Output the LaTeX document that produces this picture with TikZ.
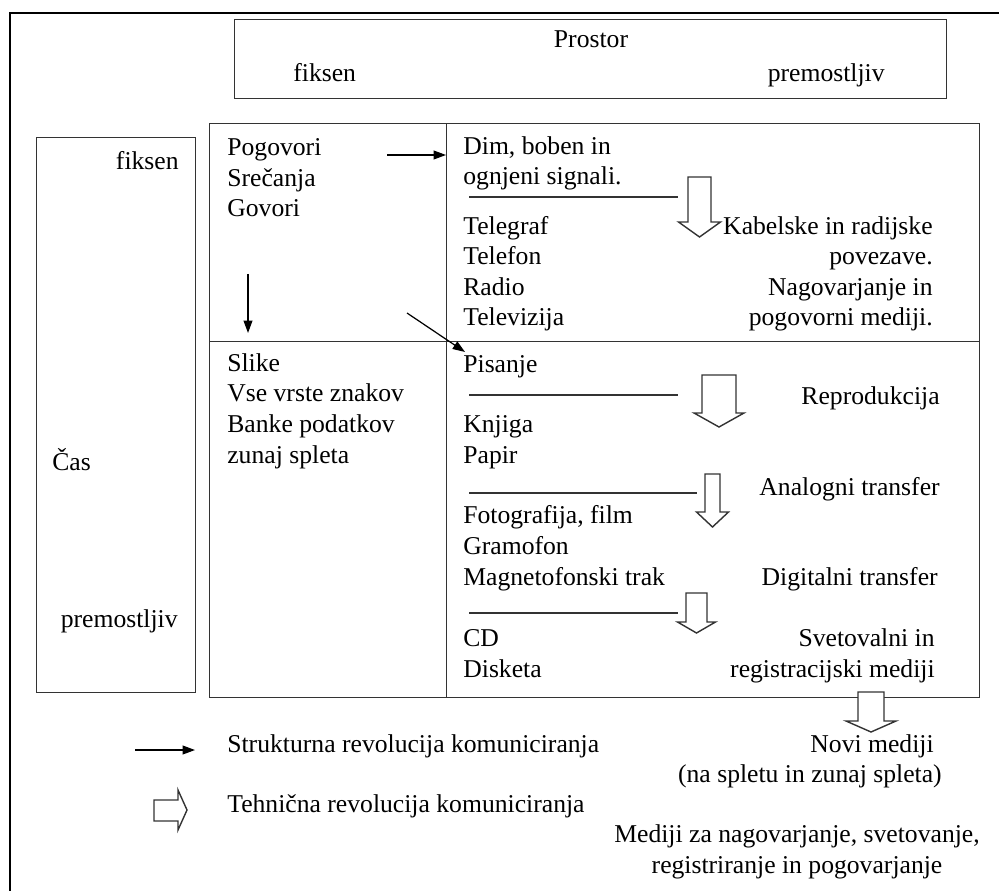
\documentclass[tikz,border=0pt]{standalone}
\usepackage{fontspec}
\setmainfont{Liberation Serif}
\usetikzlibrary{arrows.meta}

\begin{document}
\begin{tikzpicture}[
		x=0.02cm, y=-0.02cm,
		frame/.style={draw=black!80, line width=0.8pt},
		cell/.style={frame, rectangle, inner sep=0pt, anchor=north west},
		txt/.style={inner sep=0pt, font=\fontsize{14.6}{17.4}\selectfont},
		lst/.style={txt, align=left, anchor=base west},
		rlst/.style={txt, align=right, anchor=base east},
		arr/.style={-{Triangle[length=7pt, width=5pt]}, line width=0.7pt},
		techarr/.style={draw=black!80, line width=0.8pt, fill=white, line join=miter},
	]
	\useasboundingbox (0,0) rectangle (999,891);
	\draw[line width=1.5pt] (10,891) -- (10,13) -- (999,13);

	% Prostor
	\node[cell, minimum width=14.24cm, minimum height=1.58cm] (prostor) at (234,19) {};
	\node[txt, anchor=base] (plbl) at (591,48) {Prostor};
	\node[txt, anchor=base west] (pfix) at (293,82) {fiksen};
	\node[txt, anchor=base east] (pprem) at (885,82) {premostljiv};

	% Cas
	\node[cell, minimum width=3.18cm, minimum height=11.1cm] (cas) at (36,137) {};
	\node[txt, anchor=base east] (cfix) at (179,170) {fiksen};
	\node[txt, anchor=base west] (clbl) at (52,470) {Čas};
	\node[txt, anchor=base east] (cprem) at (178,627) {premostljiv};

	% Cells
	\node[cell, minimum width=4.74cm, minimum height=4.36cm] (tl) at (209,123) {};
	\node[cell, minimum width=10.66cm, minimum height=4.36cm] (tr) at (446,123) {};
	\node[cell, minimum width=4.74cm, minimum height=7.12cm] (bl) at (209,341) {};
	\node[cell, minimum width=10.66cm, minimum height=7.12cm] (br) at (446,341) {};

	% Left column (base = last line)
	\node[lst] (govor) at (227,217) {Pogovori\\Srečanja\\Govori};
	\node[lst] (slike) at (227,463) {Slike\\Vse vrste znakov\\Banke podatkov\\zunaj spleta};

	% Right column
	\node[lst] (dim) at (463,185) {Dim, boben in\\ognjeni signali.};
	\node[lst] (tele) at (463,326) {Telegraf\\Telefon\\Radio\\Televizija};
	\node[rlst] (kabel) at (933,326) {Kabelske in radijske\\povezave.\\Nagovarjanje in\\pogovorni mediji.};
	\node[lst] (pis) at (463,372) {Pisanje};
	\node[rlst] (repro) at (940,404) {Reprodukcija};
	\node[lst] (knj) at (463,463) {Knjiga\\Papir};
	\node[rlst] (analog) at (940,495) {Analogni transfer};
	\node[lst] (foto) at (463,585) {Fotografija, film\\Gramofon\\Magnetofonski trak};
	\node[rlst] (digit) at (938,585) {Digitalni transfer};
	\node[lst] (cd) at (463,677) {CD\\Disketa};
	\node[rlst] (svet) at (935,677) {Svetovalni in\\registracijski mediji};

	% Below
	\node[txt, anchor=base east] (novi) at (934,752) {Novi mediji};
	\node[txt, anchor=base east] (splet) at (942,782) {(na spletu in zunaj spleta)};
	\node[txt, anchor=base, align=center] (medij) at (797,873) {Mediji za nagovarjanje, svetovanje,\\registriranje in pogovarjanje};

	% Legend
	\node[lst] (lstr) at (227,752) {Strukturna revolucija komuniciranja};
	\node[lst] (ltech) at (227,812) {Tehnična revolucija komuniciranja};

	% Separators
	\draw[frame] (469,197) -- (678,197);
	\draw[frame] (469,395) -- (678,395);
	\draw[frame] (469,493) -- (697,493);
	\draw[frame] (469,613) -- (678,613);

	% Structural arrows
	\coordinate (h1) at (387,155);
	\coordinate (h2) at (446,155);
	\coordinate (v1) at (248,274);
	\coordinate (v2) at (248,333);
	\coordinate (d1) at (407,313);
	\coordinate (d2) at (465,352);
	\coordinate (l1) at (135,750);
	\coordinate (l2) at (195,750);
	\draw[arr] (h1) -- (h2);
	\draw[arr] (v1) -- (v2);
	\draw[arr] (d1) -- (d2);
	\draw[arr] (l1) -- (l2);

	% Technical arrows
	\foreach \cx/\ty/\hy/\by/\sw/\hw in {699.5/177/222/237/11.5/21, 719/375/413/427/17/25,
			712.5/474/512/527/7.5/16, 696.5/593/622/633/10.5/19, 871/692/721/732/13/25}
		\draw[techarr] ({\cx-\sw},\ty) -- ({\cx+\sw},\ty) -- ({\cx+\sw},\hy) -- ({\cx+\hw},\hy)
		-- (\cx,\by) -- ({\cx-\hw},\hy) -- ({\cx-\sw},\hy) -- cycle;
	\draw[techarr] (154,800) -- (178,800) -- (178,790) -- (187,810) -- (178,830) -- (178,821) -- (154,821) -- cycle;
\end{tikzpicture}
\end{document}
